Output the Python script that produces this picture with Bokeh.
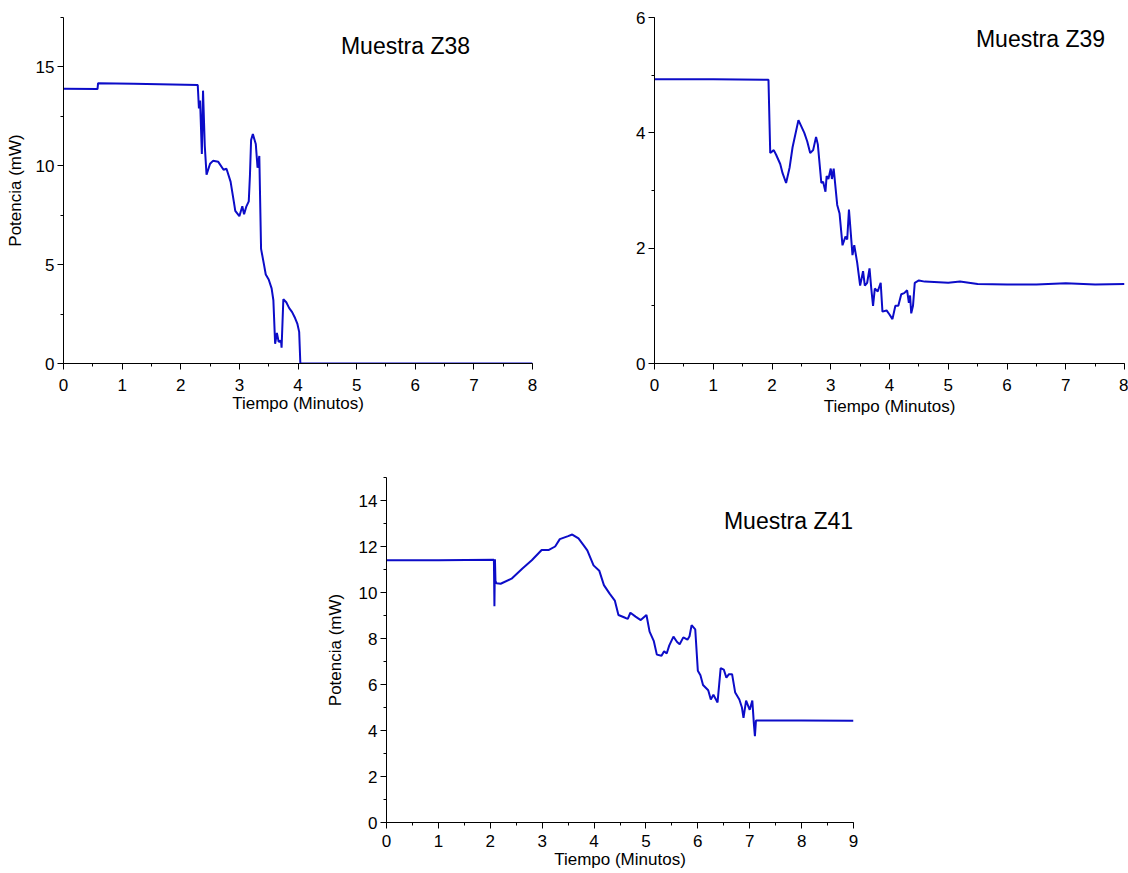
from bokeh.plotting import figure
from bokeh.layouts import column, row
from bokeh.models import Range1d, SingleIntervalTicker, Label, Spacer
from bokeh.embed import file_html
from bokeh.resources import INLINE

# ---- Data ----
z38_t = [0, 0.58, 0.59, 1.2, 2.29, 2.31, 2.33, 2.36, 2.38, 2.41, 2.44, 2.5, 2.55, 2.64, 2.73, 2.78,
         2.85, 2.91, 2.93, 3.0, 3.05, 3.08, 3.12, 3.16, 3.18, 3.2, 3.23, 3.28, 3.31, 3.34, 3.37,
         3.42, 3.45, 3.5, 3.55, 3.58, 3.61, 3.64, 3.67, 3.71, 3.72, 3.75, 3.8, 3.85, 3.9, 3.95,
         3.99, 4.02, 4.04, 4.06, 5.0, 6.0, 7.0, 8.0]
z38_p = [13.9, 13.88, 14.18, 14.15, 14.08, 12.9, 13.3, 10.6, 13.8, 11.0, 9.55, 10.1, 10.25, 10.2, 9.8, 9.85,
         9.2, 8.1, 7.72, 7.45, 7.95, 7.55, 7.95, 8.2, 9.5, 11.3, 11.6, 11.1, 9.9, 10.5, 5.8,
         5.0, 4.5, 4.25, 3.8, 3.2, 1.0, 1.55, 1.1, 1.15, 0.8, 3.25, 3.1, 2.8, 2.6, 2.3,
         2.0, 1.6, 0.0, 0.0, 0.0, 0.0, 0.0, 0.0]

z39_t = [0, 1.0, 1.94, 1.97, 2.03, 2.07, 2.14, 2.18, 2.24, 2.3, 2.35, 2.45, 2.55, 2.6, 2.65, 2.7,
         2.75, 2.78, 2.84, 2.87, 2.91, 2.93, 2.96, 3.0, 3.02, 3.05, 3.11, 3.15, 3.2, 3.25, 3.28,
         3.31, 3.37, 3.4, 3.45, 3.5, 3.55, 3.58, 3.62, 3.66, 3.69, 3.72, 3.75, 3.8, 3.85, 3.88,
         3.95, 4.0, 4.05, 4.1, 4.15, 4.2, 4.25, 4.3, 4.33, 4.35, 4.37, 4.4, 4.43, 4.5, 4.6,
         5.0, 5.2, 5.5, 6.0, 6.5, 7.0, 7.5, 8.0]
z39_p = [4.93, 4.93, 4.92, 3.65, 3.7, 3.62, 3.46, 3.3, 3.13, 3.4, 3.75, 4.22, 4.0, 3.85, 3.65, 3.7,
         3.93, 3.8, 3.13, 3.15, 2.98, 3.25, 3.2, 3.38, 3.2, 3.38, 2.75, 2.6, 2.05, 2.2, 2.15,
         2.67, 1.88, 2.05, 1.75, 1.35, 1.6, 1.35, 1.4, 1.65, 1.3, 1.0, 1.3, 1.25, 1.4, 0.9,
         0.92, 0.85, 0.77, 1.0, 1.0, 1.2, 1.22, 1.27, 1.05, 1.18, 0.87, 1.0, 1.4, 1.44, 1.42,
         1.4, 1.42, 1.38, 1.37, 1.37, 1.39, 1.37, 1.38]

z41_t = [0, 1.0, 2.07, 2.08, 2.09, 2.1, 2.12, 2.2, 2.41, 2.62, 2.8, 2.99, 3.13, 3.25, 3.34, 3.5,
         3.58, 3.7, 3.8, 3.87, 3.99, 4.1, 4.19, 4.3, 4.4, 4.47, 4.6, 4.65, 4.7, 4.8, 4.9,
         5.01, 5.07, 5.15, 5.21, 5.3, 5.35, 5.4, 5.45, 5.53, 5.6, 5.65, 5.72, 5.8, 5.84, 5.88,
         5.95, 6.0, 6.05, 6.1, 6.2, 6.25, 6.3, 6.38, 6.44, 6.5, 6.55, 6.6, 6.66, 6.72, 6.8,
         6.85, 6.88, 6.93, 7.0, 7.05, 7.08, 7.1, 7.12, 8.0, 9.0]
z41_p = [11.4, 11.4, 11.42, 9.4, 11.45, 10.5, 10.4, 10.38, 10.6, 11.04, 11.4, 11.85, 11.85, 12.0, 12.32, 12.45,
         12.52, 12.35, 12.05, 11.83, 11.18, 10.95, 10.32, 9.95, 9.65, 9.02, 8.9, 8.85, 9.12, 8.95, 8.8,
         9.02, 8.3, 7.9, 7.3, 7.25, 7.45, 7.35, 7.7, 8.08, 7.85, 7.75, 8.05, 7.95, 8.1, 8.58,
         8.4, 6.6, 6.4, 5.98, 5.75, 5.35, 5.55, 5.22, 6.71, 6.65, 6.3, 6.45, 6.45, 5.65, 5.35,
         5.0, 4.55, 5.3, 4.9, 5.3, 4.3, 3.75, 4.43, 4.43, 4.42]

titles = ["Muestra Z38", "Muestra Z39", "Muestra Z41"]
x_label = "Tiempo (Minutos)"
y_label = "Potencia (mW)"

LINE = "#0c0cc8"
FONT = "Liberation Sans"


def make_fig(w, h, left, right, top, bottom, xmax, ymax, yint, ylab, title, tx, ty,
             xtick_stand, xstand, ystand):
    p = figure(width=w, height=h, min_border_left=left, min_border_right=right,
               min_border_top=top, min_border_bottom=bottom,
               x_range=Range1d(0, xmax), y_range=Range1d(0, ymax),
               output_backend="svg", toolbar_location=None, tools="")
    p.outline_line_color = None
    p.xgrid.visible = False
    p.ygrid.visible = False
    p.xaxis.ticker = SingleIntervalTicker(interval=1, num_minor_ticks=2)
    p.yaxis.ticker = SingleIntervalTicker(interval=yint, num_minor_ticks=2)
    for ax in (p.xaxis[0], p.yaxis[0]):
        ax.axis_line_color = "black"
        ax.major_tick_line_color = "black"
        ax.minor_tick_line_color = "black"
        ax.major_tick_out = 6
        ax.major_tick_in = 0
        ax.minor_tick_out = 3
        ax.minor_tick_in = 0
        ax.major_label_text_font = FONT
        ax.major_label_text_font_size = "17px"
        ax.major_label_text_color = "black"
        ax.axis_label_text_font = FONT
        ax.axis_label_text_font_size = "17px"
        ax.axis_label_text_font_style = "normal"
        ax.axis_label_text_color = "black"
    p.xaxis.major_label_standoff = xtick_stand
    p.yaxis.major_label_standoff = 3
    p.xaxis.axis_label = x_label
    p.xaxis.axis_label_standoff = xstand
    if ylab:
        p.yaxis.axis_label = y_label
        p.yaxis.axis_label_standoff = ystand
    p.add_layout(Label(x=tx, y=ty, x_units="screen", y_units="screen", text=title,
                       text_font=FONT, text_font_size="23px", text_color="black",
                       text_align="center", text_baseline="middle"))
    return p


p1 = make_fig(580, 426, 63, 48, 17, 63, 8, 17.5, 5, True, titles[0], 342, 318, 9, 0, 8)
p1.line(z38_t, z38_p, line_color=LINE, line_width=2)

p2 = make_fig(548, 426, 74, 4, 17, 63, 8, 6, 2, False, titles[1], 386, 325, 9, 3, 8)
p2.line(z39_t, z39_p, line_color=LINE, line_width=2)

p3 = make_fig(593, 447, 86, 40, 51, 51, 9, 15, 2, True, titles[2], 402, 302, 6, 0, 11)
p3.line(z41_t, z41_p, line_color=LINE, line_width=2)

layout = column(row(p1, p2), row(Spacer(width=300, height=447), p3))

open("out.html", "w").write(file_html(layout, INLINE))
